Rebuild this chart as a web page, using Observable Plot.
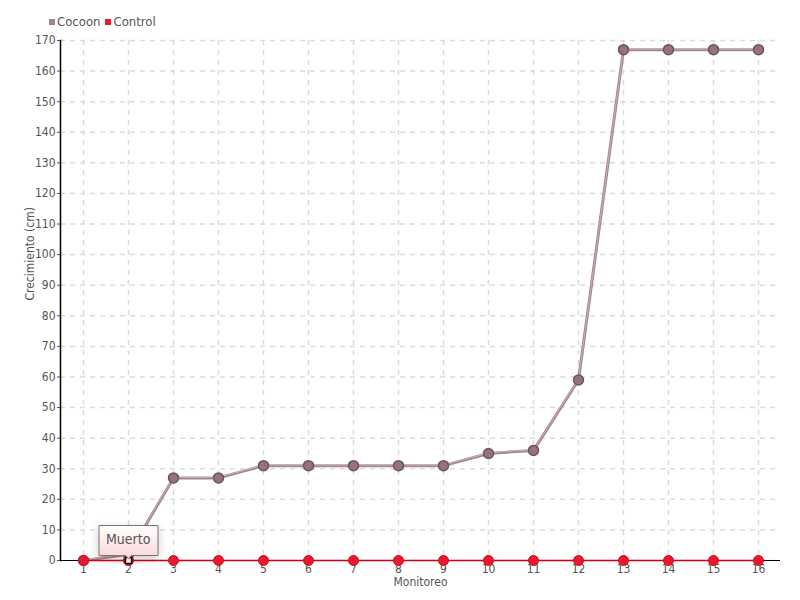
<!DOCTYPE html>
<html>
<head>
<meta charset="utf-8">
<script src="https://cdn.jsdelivr.net/npm/d3@7"></script>
<script src="https://cdn.jsdelivr.net/npm/@observablehq/plot@0.6"></script>
<style>
  html, body { margin: 0; padding: 0; background: #fff; }
  #wrap { position: relative; width: 800px; height: 600px; font-family: "DejaVu Sans", sans-serif; font-stretch: condensed; }
  #wrap svg, #wrap svg text { font-stretch: condensed; }
  #legend { position: absolute; left: 49px; top: 14px; font-size: 13px; color: #555; display: flex; gap: 5px; align-items: center; font-stretch: condensed; }
  #legend span.sw { display: inline-block; width: 6px; height: 6px; margin-right: 2px; vertical-align: middle; position: relative; top: -1px; }
</style>
</head>
<body>
<div id="wrap">
  <div id="legend"></div>
</div>
<script>
const monitoreo = [1, 2, 3, 4, 5, 6, 7, 8, 9, 10, 11, 12, 13, 14, 15, 16];
const cocoon = [0, 2, 27, 27, 31, 31, 31, 31, 31, 35, 36, 59, 167, 167, 167, 167];
const control = [0, 0, 0, 0, 0, 0, 0, 0, 0, 0, 0, 0, 0, 0, 0, 0];
const yTicks = [0, 10, 20, 30, 40, 50, 60, 70, 80, 90, 100, 110, 120, 130, 140, 150, 160, 170];
const seriesNames = ["Cocoon", "Control"];
const seriesColors = ["#a3868b", "#e8192c"];
const annotation = [{x: 2, y: 0, text: "Muerto"}];

const cocoonData = monitoreo.map((m, i) => ({x: m, y: cocoon[i]}));
const controlData = monitoreo.map((m, i) => ({x: m, y: control[i]}));

const font = "DejaVu Sans, sans-serif";

const chart = Plot.plot({
  width: 800,
  height: 600,
  marginLeft: 60,
  marginRight: 20,
  marginTop: 40,
  marginBottom: 40,
  style: {fontFamily: font, fontSize: "12px", color: "#555", background: "#fff"},
  x: {type: "point", domain: monitoreo, padding: 0.5},
  y: {domain: [0, 170]},
  marks: [
    Plot.gridX(monitoreo, {stroke: "#dcdcdc", strokeOpacity: 1, strokeDasharray: "5,5", strokeWidth: 1.5}),
    Plot.gridY(yTicks, {stroke: "#dcdcdc", strokeOpacity: 1, strokeDasharray: "5,5", strokeWidth: 1.5}),
    Plot.axisX(monitoreo, {tickSize: 3, tickPadding: 1, label: null, color: "#555", fontSize: 12}),
    Plot.axisY(yTicks, {tickSize: 3, tickPadding: 2, label: null, color: "#555", fontSize: 12}),
    Plot.ruleY([0], {stroke: "#000", strokeWidth: 1}),
    Plot.frame({anchor: "left", stroke: "#000", strokeWidth: 1.5}),
    Plot.line(cocoonData, {x: "x", y: "y", stroke: seriesColors[0], strokeWidth: 3}),
    Plot.line(cocoonData, {x: "x", y: "y", stroke: "#e6d6d8", strokeWidth: 0.8, dy: -0.6, strokeOpacity: 0.7}),
    Plot.dot(cocoonData, {x: "x", y: "y", r: 5, fill: "#957378", stroke: "#6e555b", strokeWidth: 1.5}),
    Plot.line(controlData, {x: "x", y: "y", stroke: "#d0021b", strokeWidth: 1.5}),
    Plot.dot(controlData, {x: "x", y: "y", r: 5, fill: "#e8192c", stroke: "#d01020", strokeWidth: 1}),
    Plot.dot(annotation, {x: "x", y: "y", symbol: "square", r: 3.5, fill: "#fff", stroke: "#000", strokeWidth: 1.5}),
    Plot.tip(annotation, {x: "x", y: "y", title: "text", anchor: "bottom", fill: "url(#muertoGrad)", stroke: "#777", fontSize: 14, textPadding: 7, pointerSize: 6, dy: -2}),
    Plot.text(["Crecimiento (cm)"], {frameAnchor: "left", rotate: -90, dx: -30, fill: "#555", fontSize: 12}),
    Plot.text(["Monitoreo"], {frameAnchor: "bottom", dy: 25, fill: "#555", fontSize: 12})
  ]
});

const svg = d3.select(chart);
const defs = svg.insert("defs", ":first-child");
const g = defs.append("linearGradient").attr("id", "muertoGrad").attr("x1", 0).attr("y1", 0).attr("x2", 0).attr("y2", 1);
g.append("stop").attr("offset", "0%").attr("stop-color", "#ffffff");
g.append("stop").attr("offset", "100%").attr("stop-color", "#fcd6d6");

document.getElementById("wrap").appendChild(chart);

const legend = document.getElementById("legend");
seriesNames.forEach((n, i) => {
  const item = document.createElement("span");
  item.innerHTML = `<span class="sw" style="background:${seriesColors[i]}"></span>${n}`;
  legend.appendChild(item);
});
</script>
</body>
</html>
